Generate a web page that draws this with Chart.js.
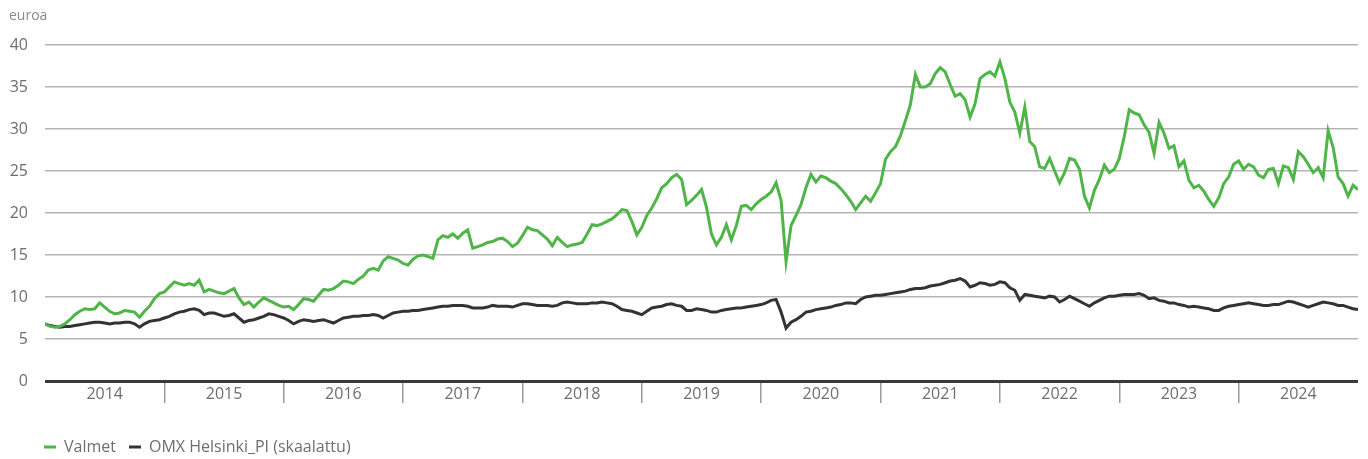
<!DOCTYPE html>
<html lang="fi">
<head>
<meta charset="utf-8">
<title>Valmet vs OMX Helsinki_PI</title>
<script src="https://cdn.jsdelivr.net/npm/chart.js@4/dist/chart.umd.min.js"></script>
<style>
  html, body { margin: 0; padding: 0; background: #fff; overflow: hidden; }
  #wrap { width: 1368px; height: 459px; position: relative; }
</style>
</head>
<body>
<div id="wrap"><canvas id="chart"></canvas></div>
<script>
// Semi-monthly closing levels, Jan 2014 .. Dec 2024 (24 points per year)
const START_YEAR = 2014;
const STEPS_PER_YEAR = 24;

const yearLabels = ['2014', '2015', '2016', '2017', '2018', '2019', '2020', '2021', '2022', '2023', '2024'];

// Valmet share price, euroa
const valmet = [
  6.8, 6.5, 6.4, 6.5, 6.8, 7.3, 7.9, 8.3, 8.6, 8.5, 8.6, 9.3, 8.8, 8.3, 8.0, 8.1, 8.4, 8.3, 8.2, 7.6, 8.3, 8.9, 9.8, 10.4,
  10.6, 11.2, 11.8, 11.6, 11.4, 11.6, 11.4, 12.0, 10.6, 10.9, 10.7, 10.5, 10.4, 10.7, 11.0, 9.9, 9.1, 9.4, 8.8, 9.4, 9.9, 9.6, 9.3, 9.0,
  8.8, 8.9, 8.5, 9.1, 9.8, 9.7, 9.5, 10.2, 10.9, 10.8, 11.0, 11.4, 11.9, 11.8, 11.6, 12.1, 12.5, 13.2, 13.4, 13.2, 14.3, 14.8, 14.6, 14.4,
  14.0, 13.8, 14.5, 14.9, 15.0, 14.8, 14.6, 16.8, 17.3, 17.1, 17.5, 17.0, 17.6, 18.0, 15.8, 16.0, 16.2, 16.5, 16.6, 16.9, 17.0, 16.6, 16.0, 16.4,
  17.3, 18.3, 18.0, 17.9, 17.4, 16.9, 16.1, 17.1, 16.5, 16.0, 16.2, 16.3, 16.5, 17.5, 18.6, 18.5, 18.7, 19.0, 19.3, 19.8, 20.4, 20.3, 19.0, 17.4,
  18.3, 19.7, 20.6, 21.7, 23.0, 23.5, 24.2, 24.6, 24.0, 21.0, 21.5, 22.1, 22.8, 20.7, 17.5, 16.2, 17.1, 18.6, 16.8, 18.5, 20.8, 20.9, 20.4, 21.1,
  21.6, 22.0, 22.5, 23.6, 21.5, 14.2, 18.5, 19.7, 21.0, 23.0, 24.6, 23.7, 24.4, 24.2, 23.8, 23.5, 22.9, 22.2, 21.4, 20.4, 21.2, 22.0, 21.4, 22.4,
  23.5, 26.4, 27.3, 27.9, 29.2, 31.0, 32.9, 36.5, 35.0, 35.0, 35.4, 36.6, 37.3, 36.8, 35.3, 33.9, 34.2, 33.5, 31.4, 33.0, 36.0, 36.5, 36.8, 36.3,
  38.0, 36.0, 33.2, 32.0, 29.5, 32.6, 28.5, 27.9, 25.5, 25.3, 26.5, 25.0, 23.6, 24.8, 26.5, 26.3, 25.2, 22.0, 20.6, 22.7, 24.0, 25.7, 24.8, 25.2,
  26.5, 29.1, 32.3, 31.9, 31.7, 30.5, 29.6, 27.1, 30.8, 29.5, 27.7, 28.0, 25.5, 26.2, 23.9, 23.0, 23.3, 22.6, 21.6, 20.8, 21.8, 23.5, 24.3, 25.8,
  26.2, 25.2, 25.8, 25.5, 24.5, 24.2, 25.2, 25.3, 23.5, 25.6, 25.4, 24.0, 27.3, 26.7, 25.8, 24.8, 25.4, 24.2, 29.8, 27.8, 24.3, 23.5, 22.0, 23.3, 22.8
];

// OMX Helsinki_PI, scaled to Valmet's starting level
const omx = [
  6.8, 6.6, 6.5, 6.4, 6.5, 6.5, 6.6, 6.7, 6.8, 6.9, 7.0, 7.0, 6.9, 6.8, 6.9, 6.9, 7.0, 7.0, 6.8, 6.4, 6.8, 7.1, 7.2, 7.3,
  7.5, 7.7, 8.0, 8.2, 8.3, 8.5, 8.6, 8.4, 7.9, 8.1, 8.1, 7.9, 7.7, 7.8, 8.0, 7.5, 7.0, 7.2, 7.3, 7.5, 7.7, 8.0, 7.9, 7.7,
  7.5, 7.2, 6.8, 7.1, 7.3, 7.2, 7.1, 7.2, 7.3, 7.1, 6.9, 7.2, 7.5, 7.6, 7.7, 7.7, 7.8, 7.8, 7.9, 7.8, 7.5, 7.8, 8.1, 8.2,
  8.3, 8.3, 8.4, 8.4, 8.5, 8.6, 8.7, 8.8, 8.9, 8.9, 9.0, 9.0, 9.0, 8.9, 8.7, 8.7, 8.7, 8.8, 9.0, 8.9, 8.9, 8.9, 8.8, 9.0,
  9.2, 9.2, 9.1, 9.0, 9.0, 9.0, 8.9, 9.0, 9.3, 9.4, 9.3, 9.2, 9.2, 9.2, 9.3, 9.3, 9.4, 9.3, 9.2, 8.9, 8.5, 8.4, 8.3, 8.1,
  7.9, 8.3, 8.7, 8.8, 8.9, 9.1, 9.2, 9.0, 8.9, 8.4, 8.4, 8.6, 8.5, 8.4, 8.2, 8.2, 8.4, 8.5, 8.6, 8.7, 8.7, 8.8, 8.9, 9.0,
  9.1, 9.3, 9.6, 9.7, 8.2, 6.3, 7.0, 7.3, 7.7, 8.2, 8.3, 8.5, 8.6, 8.7, 8.8, 9.0, 9.1, 9.3, 9.3, 9.2, 9.7, 10.0, 10.1, 10.2,
  10.2, 10.3, 10.4, 10.5, 10.6, 10.7, 10.9, 11.0, 11.0, 11.1, 11.3, 11.4, 11.5, 11.7, 11.9, 12.0, 12.2, 11.9, 11.2, 11.4, 11.7, 11.6, 11.4, 11.5,
  11.8, 11.7, 11.1, 10.8, 9.6, 10.3, 10.2, 10.1, 10.0, 9.9, 10.1, 10.0, 9.4, 9.7, 10.1, 9.8, 9.5, 9.2, 8.9, 9.3, 9.6, 9.9, 10.1, 10.1,
  10.2, 10.3, 10.3, 10.3, 10.4, 10.2, 9.8, 9.9, 9.6, 9.5, 9.3, 9.3, 9.1, 9.0, 8.8, 8.9, 8.8, 8.7, 8.6, 8.4, 8.4, 8.7, 8.9, 9.0,
  9.1, 9.2, 9.3, 9.2, 9.1, 9.0, 9.0, 9.1, 9.1, 9.3, 9.5, 9.4, 9.2, 9.0, 8.8, 9.0, 9.2, 9.4, 9.3, 9.2, 9.0, 9.0, 8.8, 8.6, 8.5
];

const GREEN = '#4fb548';
const DARK = '#333333';
const GRID = '#b5b5b5';
const TEXT = '#6e6e6e';
const FONT = '"Open Sans", "DejaVu Sans", sans-serif';

const toPoints = arr => arr.map((v, i) => ({ x: START_YEAR + i / STEPS_PER_YEAR, y: v }));

// Year boundaries get a short tick, label sits at mid-year
const xTicks = [];
yearLabels.forEach((_, i) => {
  xTicks.push(START_YEAR + i, START_YEAR + i + 0.5);
});
xTicks.push(START_YEAR + yearLabels.length);

// "euroa" unit text in the top left corner, legend lined up with the plot
const extras = {
  id: 'extras',
  afterLayout(chart) {
    chart.legend.left = chart.chartArea.left - 14;
  },
  afterDraw(chart) {
    const { ctx } = chart;
    ctx.save();
    ctx.font = '14px ' + FONT;
    ctx.fillStyle = '#8a8a8a';
    ctx.textBaseline = 'middle';
    ctx.fillText('euroa', 9, 16);
    ctx.restore();
  }
};

const ctx = document.getElementById('chart').getContext('2d');

new Chart(ctx, {
  type: 'line',
  data: {
    datasets: [
      {
        label: 'Valmet',
        data: toPoints(valmet),
        borderColor: GREEN,
        backgroundColor: GREEN,
        borderWidth: 3,
        pointRadius: 0,
        tension: 0,
      },
      {
        label: 'OMX Helsinki_PI (skaalattu)',
        data: toPoints(omx),
        borderColor: DARK,
        backgroundColor: DARK,
        borderWidth: 3,
        pointRadius: 0,
        tension: 0,
      },
    ],
  },
  options: {
    responsive: true,
    maintainAspectRatio: false,
    animation: false,
    layout: { padding: { left: 0, right: 10, top: 45, bottom: -6 } },
    plugins: {
      legend: {
        position: 'bottom',
        align: 'start',
        labels: {
          boxWidth: 12,
          boxHeight: 3,
          padding: 13,
          color: TEXT,
          font: { family: FONT, size: 16 },
          generateLabels: chart => chart.data.datasets.map((ds, i) => ({
            text: ds.label,
            fillStyle: ds.borderColor,
            strokeStyle: ds.borderColor,
            lineWidth: 0,
            fontColor: TEXT,
            hidden: false,
            datasetIndex: i,
          })),
        },
      },
      tooltip: { enabled: false },
    },
    scales: {
      x: {
        type: 'linear',
        min: START_YEAR,
        max: START_YEAR + yearLabels.length,
        afterBuildTicks: scale => { scale.ticks = xTicks.map(v => ({ value: v })); },
        afterFit: scale => { scale.height = 45; },
        border: { display: false },
        grid: {
          drawOnChartArea: false,
          drawTicks: true,
          tickLength: 22,
          lineWidth: 1.5,
          color: c => {
            const v = c.tick && c.tick.value;
            return Number.isInteger(v) && v > START_YEAR && v < START_YEAR + yearLabels.length ? '#9a9a9a' : 'rgba(0,0,0,0)';
          },
        },
        ticks: {
          autoSkip: false,
          maxRotation: 0,
          padding: -18,
          color: TEXT,
          font: { family: FONT, size: 16 },
          callback: v => (Number.isInteger(v) ? '' : yearLabels[Math.floor(v) - START_YEAR]),
        },
      },
      y: {
        min: 0,
        max: 40,
        afterFit: scale => { scale.width = 45; },
        border: { display: false },
        grid: {
          drawTicks: false,
          color: c => (c.tick.value === 0 ? '#3a3a3a' : GRID),
          lineWidth: c => (c.tick.value === 0 ? 3 : 1.5),
        },
        ticks: {
          stepSize: 5,
          padding: 17,
          color: TEXT,
          font: { family: FONT, size: 16 },
        },
      },
    },
  },
  plugins: [extras],
});
</script>
</body>
</html>
